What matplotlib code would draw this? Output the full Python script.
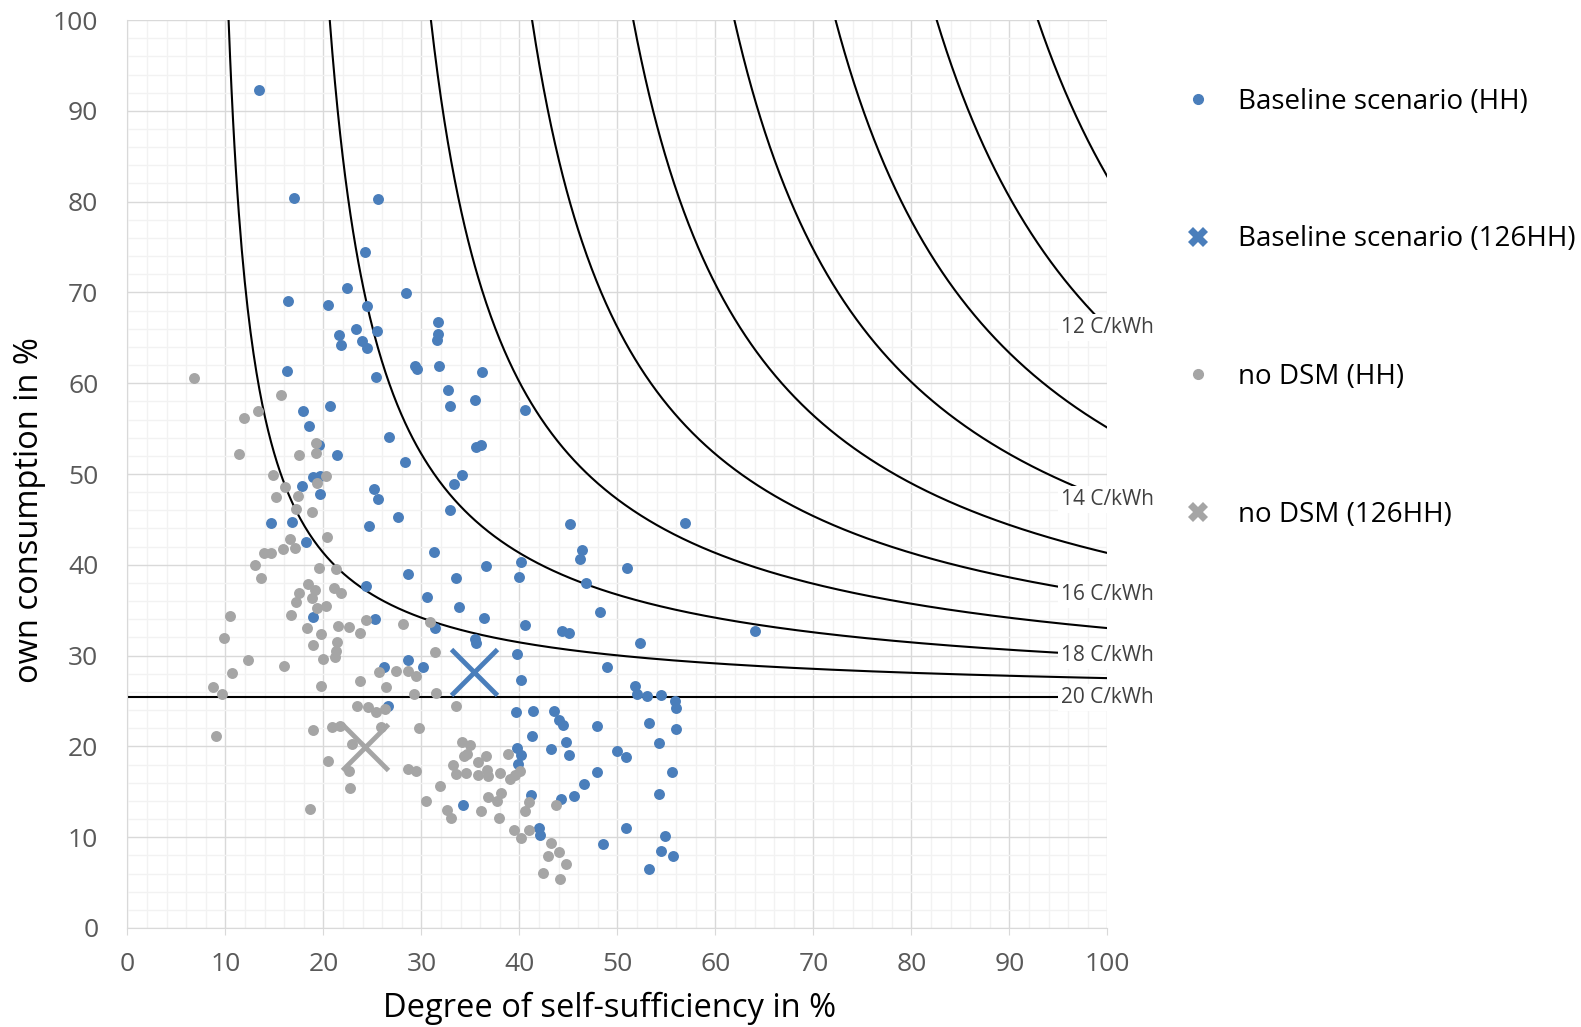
import numpy as np
import matplotlib
matplotlib.use("Agg")
import matplotlib.pyplot as plt
from matplotlib.lines import Line2D

plt.rcParams['font.family'] = ['Open Sans', 'DejaVu Sans']

# Baseline scenario (HH): self-sufficiency %, own consumption %
base_ss = [13.45, 16.95, 25.6, 24.2, 22.4, 28.45, 16.35, 20.46, 24.4, 31.65, 23.3, 25.5, 21.6, 31.7,
           31.6, 21.75, 23.96, 24.4, 29.3, 29.5, 31.8, 36.2, 16.3, 25.4, 32.7, 35.5, 32.9, 40.6, 17.9,
           20.7, 18.55, 26.7, 35.6, 36.1, 19.5, 21.35, 28.35, 34.1,
           18.96, 19.6, 17.8, 19.65, 25.2, 25.6, 33.3, 32.9, 14.6, 16.75, 24.6, 27.6, 45.2, 18.2, 31.3,
           46.4, 46.2, 28.6, 36.55, 40.15, 33.55, 40.0, 46.75, 24.3, 30.6, 33.8, 48.2, 18.96, 25.25,
           36.4, 31.4, 40.6, 44.3, 45.05, 35.5, 35.6, 39.7, 48.9, 26.2, 28.6, 30.2, 40.2, 26.6, 39.6,
           41.4, 43.5, 44.0, 44.4, 47.9, 41.3, 44.7, 39.8, 40.2, 39.9, 43.2, 45.05, 47.9, 46.6, 45.6,
           41.2, 44.2, 34.2, 42.0, 42.1, 48.5,
           56.9, 51.0, 64.0, 52.3, 51.8, 52.0, 53.0, 54.4, 55.9, 56.0, 53.2, 56.0, 54.2, 50.0, 50.9,
           55.6, 54.2, 50.9, 54.9, 54.4, 55.7, 53.2]
base_oc = [92.3, 80.4, 80.25, 74.4, 70.45, 69.9, 69.05, 68.6, 68.5, 66.7, 66.0, 65.8, 65.3, 65.4,
           64.8, 64.2, 64.6, 63.9, 61.9, 61.6, 61.9, 61.2, 61.4, 60.7, 59.2, 58.1, 57.5, 57.0, 56.9,
           57.5, 55.3, 54.1, 53.0, 53.2, 53.2, 52.1, 51.3, 49.9,
           49.7, 49.8, 48.7, 47.8, 48.4, 47.2, 48.9, 46.0, 44.6, 44.75, 44.3, 45.3, 44.5, 42.5, 41.4,
           41.6, 40.6, 39.0, 39.9, 40.3, 38.5, 38.65, 37.96, 37.7, 36.4, 35.4, 34.8, 34.2, 34.0,
           34.1, 33.0, 33.4, 32.7, 32.45, 31.8, 31.4, 30.2, 28.7, 28.7, 29.5, 28.7, 27.3, 24.5, 23.75,
           23.9, 23.9, 22.9, 22.4, 22.2, 21.2, 20.5, 19.8, 19.05, 18.1, 19.7, 19.05, 17.2, 15.9, 14.5,
           14.7, 14.2, 13.5, 10.98, 10.2, 9.3,
           44.6, 39.6, 32.7, 31.4, 26.7, 25.8, 25.55, 25.7, 25.0, 24.2, 22.6, 21.9, 20.4, 19.5, 18.8,
           17.2, 14.8, 11.0, 10.1, 8.5, 7.9, 6.5]

# no DSM (HH)
nodsm_ss = [6.8, 15.7, 13.35, 11.85, 19.2, 11.35, 17.5, 19.2,
            14.85, 20.3, 19.3, 16.1, 15.15, 17.4, 17.2, 18.8, 20.4, 16.55, 17.1, 15.9, 13.9, 14.7,
            13.0, 19.5, 21.3, 13.6, 18.45, 19.1, 21.1, 21.8, 17.5, 17.2, 18.8, 19.3, 20.3, 10.5,
            16.65, 24.3, 28.1, 30.9, 9.85, 18.35, 19.7, 21.45, 22.6, 23.7, 21.35, 18.9, 21.3, 21.2,
            20.0, 31.4, 12.3, 16.0, 10.7, 25.7, 27.4, 28.6, 29.4, 23.7, 19.75, 26.4, 8.7, 9.7, 29.2,
            31.5, 23.45, 24.5, 25.4, 26.3, 33.55, 18.96, 20.9, 21.7, 25.9, 29.7, 9.03, 22.9, 34.1,
            35.0, 34.6, 34.3, 36.55, 35.8, 38.8, 20.5, 22.6, 28.6, 29.4, 33.2, 33.5, 34.5, 35.8,
            36.65, 36.75, 38.0, 39.0, 39.5, 40.05, 22.7, 31.9, 38.1, 36.8, 37.7, 41.0, 40.6, 43.7,
            30.5, 18.6, 32.6, 33.0, 36.1, 37.9, 39.4, 40.2, 41.0, 43.2, 44.0, 42.9, 44.8, 42.4, 44.1]
nodsm_oc = [60.6, 58.7, 56.9, 56.2, 53.4, 52.2, 52.1, 52.3,
            49.9, 49.8, 49.0, 48.6, 47.5, 47.6, 46.2, 45.8, 43.1, 42.8, 41.9, 41.7, 41.3, 41.3,
            40.0, 39.7, 39.5, 38.5, 37.9, 37.2, 37.5, 36.9, 36.9, 35.9, 36.3, 35.2, 35.5, 34.4,
            34.5, 33.9, 33.5, 33.7, 31.9, 33.0, 32.4, 33.3, 33.15, 32.5, 31.5, 31.2, 30.5, 29.9,
            29.6, 30.4, 29.5, 28.9, 28.1, 28.2, 28.3, 28.3, 27.8, 27.2, 26.6, 26.5, 26.5, 25.8, 25.8,
            25.9, 24.5, 24.3, 23.8, 24.1, 24.45, 21.8, 22.1, 22.25, 22.1, 22.0, 21.1, 20.3, 20.5,
            20.1, 19.2, 18.9, 18.9, 18.3, 19.2, 18.4, 17.3, 17.5, 17.3, 17.95, 17.0, 17.1, 16.8,
            17.4, 16.7, 17.1, 16.4, 16.85, 17.3, 15.45, 15.6, 14.9, 14.4, 14.0, 13.9, 12.9, 13.5,
            14.0, 13.1, 13.0, 12.1, 12.9, 12.15, 10.8, 9.9, 10.8, 9.4, 8.4, 7.9, 7.0, 6.1, 5.43]

# aggregated 126 households
base_126 = (35.4, 28.2)
nodsm_126 = (24.2, 19.9)

# iso-cost lines (C/kWh)
cost_levels = [19, 18, 17, 16, 15, 14, 13, 12, 11]
labeled_levels = [12, 14, 16, 18]
grid_price = 20
oc_limit = 25.4      # own consumption where cost equals grid price
ss_per_ct = 7.7      # shift of vertical asymptote per C/kWh

blue = '#4A7EBB'
grey = '#A5A5A5'

fig = plt.figure(figsize=(15.81, 10.27), dpi=100)
ax = fig.add_axes([0.0806, 0.0964, 0.6199, 0.8841])

ax.set_xlim(0, 100)
ax.set_ylim(0, 100)
ax.set_xticks(np.arange(0, 101, 10))
ax.set_yticks(np.arange(0, 101, 10))
ax.set_xticks(np.arange(0, 101, 2), minor=True)
ax.set_yticks(np.arange(0, 101, 2), minor=True)
ax.grid(which='minor', color='#f2f2f2', lw=1.0, zorder=0)
ax.grid(which='major', color='#d9d9d9', lw=1.0, zorder=0)
ax.set_axisbelow(True)
for sp in ['top', 'right']:
    ax.spines[sp].set_visible(False)
ax.spines['left'].set_color('#d9d9d9')
ax.spines['bottom'].set_color('#d9d9d9')
ax.tick_params(axis='x', which='major', length=5, color='#d9d9d9', labelsize=19,
               labelcolor='#595959', pad=12)
ax.tick_params(axis='y', which='major', length=0, labelsize=19, labelcolor='#595959', pad=21)
ax.tick_params(which='minor', length=0)

# cost curves
for c in cost_levels:
    s0 = ss_per_ct * (grid_price - c)
    s_top = s0 * 100 / (100 - oc_limit)
    ss = np.linspace(s_top, 100, 600)
    oc = oc_limit * ss / (ss - s0)
    ax.plot(ss, oc, color='black', lw=1.5, zorder=2)
ax.axhline(oc_limit, color='black', lw=1.5, zorder=2)

for c in labeled_levels + [grid_price]:
    s0 = ss_per_ct * (grid_price - c)
    y = oc_limit * 100 / (100 - s0)
    ax.text(95.3, y, f'{c} C/kWh', fontsize=15, color='#404040', va='center', ha='left',
            zorder=5, clip_on=False,
            bbox=dict(boxstyle='square,pad=0.15', fc='white', ec='none'))

ax.scatter(base_ss, base_oc, s=62, color=blue, linewidths=0, zorder=3)
ax.plot(*base_126, marker='x', ms=33, mew=3.5, color=blue, ls='', zorder=4)
ax.scatter(nodsm_ss, nodsm_oc, s=62, color=grey, linewidths=0, zorder=3)
ax.plot(*nodsm_126, marker='x', ms=33, mew=3.5, color=grey, ls='', zorder=4)

ax.set_xlabel('Degree of self-sufficiency in %', fontsize=23.5, va='center')
ax.set_ylabel('own consumption in %', fontsize=23.5, va='center')
ax.xaxis.set_label_coords(0.492, -0.088)
ax.yaxis.set_label_coords(-0.0995, 0.46)

handles = [
    Line2D([], [], marker='o', ls='', color=blue, ms=7),
    Line2D([], [], marker='X', ls='', color=blue, ms=14, mew=0),
    Line2D([], [], marker='o', ls='', color=grey, ms=7),
    Line2D([], [], marker='X', ls='', color=grey, ms=14, mew=0),
]
labels = ['Baseline scenario (HH)', 'Baseline scenario (126HH)', 'no DSM (HH)', 'no DSM (126HH)']
fig.legend(handles, labels, loc='upper left', bbox_to_anchor=(0.749, 0.9148), frameon=False,
           fontsize=20, handlelength=1.0, handletextpad=0.94, labelspacing=3.95,
           borderpad=0, borderaxespad=0)

fig.savefig('out.png', dpi=100)
